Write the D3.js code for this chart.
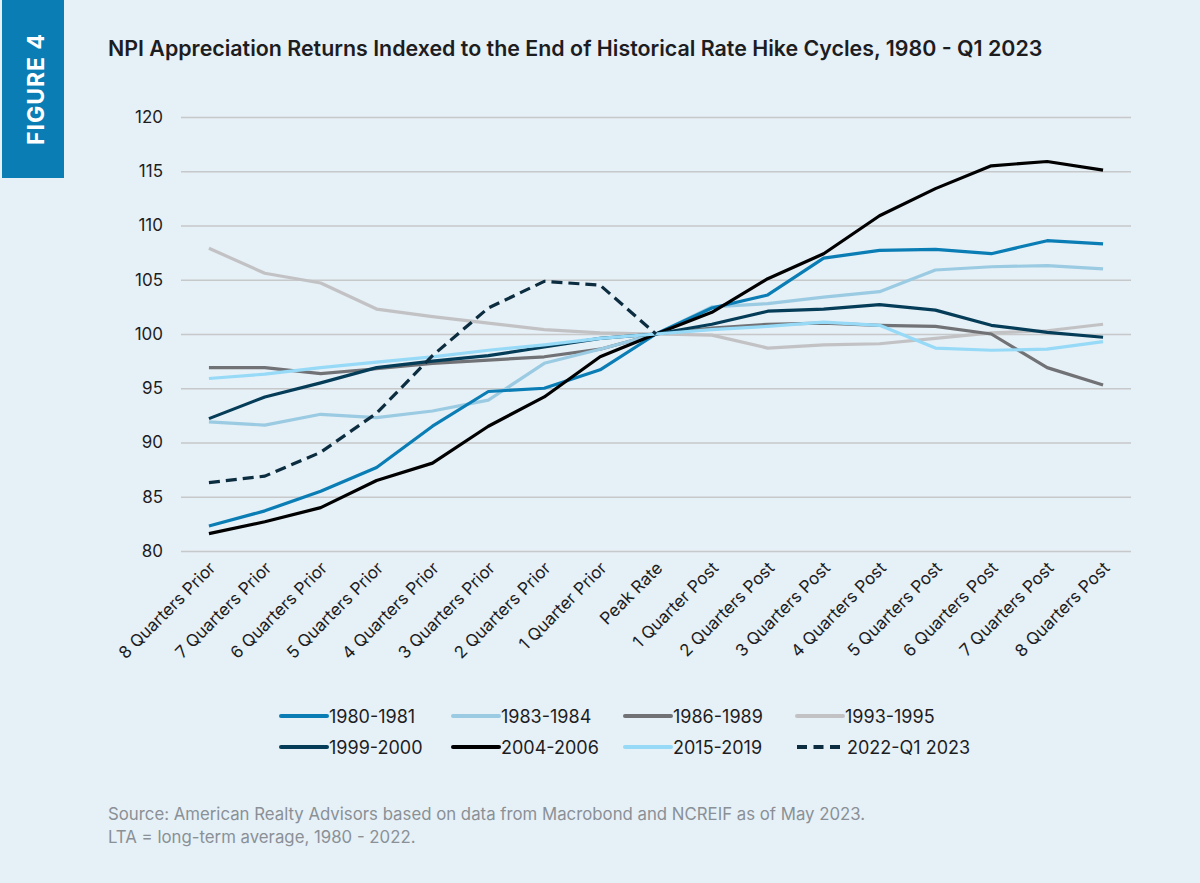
<!DOCTYPE html>
<html>
<head>
<meta charset="utf-8">
<script src="https://cdn.jsdelivr.net/npm/d3@7"></script>
<style>
  body { margin: 0; background: #e6f0f7; }
  svg { display: block; font-family: Inter, 'Noto Sans', sans-serif; }
</style>
</head>
<body>
<svg id="chart" width="1200" height="883"></svg>
<script>
// x categories
const quarters = [
  '8 Quarters Prior', '7 Quarters Prior', '6 Quarters Prior', '5 Quarters Prior',
  '4 Quarters Prior', '3 Quarters Prior', '2 Quarters Prior', '1 Quarter Prior',
  'Peak Rate',
  '1 Quarter Post', '2 Quarters Post', '3 Quarters Post', '4 Quarters Post',
  '5 Quarters Post', '6 Quarters Post', '7 Quarters Post', '8 Quarters Post'
];

// series values (index = 100 at peak rate)
const s1980 = [82.3, 83.7, 85.5, 87.7, 91.5, 94.7, 95.0, 96.7, 100, 102.4, 103.6, 107.0, 107.7, 107.8, 107.4, 108.6, 108.3];
const s1983 = [91.9, 91.6, 92.6, 92.3, 92.9, 93.9, 97.3, 98.6, 100, 102.5, 102.8, 103.4, 103.9, 105.9, 106.2, 106.3, 106.0];
const s1986 = [96.9, 96.9, 96.35, 96.8, 97.3, 97.6, 97.9, 98.6, 100, 100.55, 100.9, 101.0, 100.8, 100.7, 100.0, 96.9, 95.3];
const s1993 = [107.9, 105.6, 104.7, 102.3, 101.6, 101.0, 100.4, 100.1, 100, 99.9, 98.7, 99.0, 99.1, 99.6, 100.1, 100.3, 100.9];
const s1999 = [92.2, 94.2, 95.5, 96.9, 97.5, 98.0, 98.8, 99.6, 100, 100.9, 102.1, 102.3, 102.7, 102.2, 100.8, 100.15, 99.7];
const s2004 = [81.6, 82.7, 84.0, 86.5, 88.1, 91.5, 94.2, 97.9, 100, 102.0, 105.1, 107.4, 110.9, 113.4, 115.5, 115.9, 115.1];
const s2015 = [95.9, 96.3, 96.9, 97.4, 97.9, 98.5, 99.0, 99.6, 100, 100.4, 100.7, 101.1, 100.8, 98.7, 98.5, 98.6, 99.3];
const s2022 = [86.3, 86.9, 89.1, 92.7, 98.0, 102.4, 104.85, 104.5, 100];

const seriesNames = ['1980-1981', '1983-1984', '1986-1989', '1993-1995', '1999-2000', '2004-2006', '2015-2019', '2022-Q1 2023'];
const seriesValues = [s1980, s1983, s1986, s1993, s1999, s2004, s2015, s2022];
const seriesColors = ['#0a7db5', '#9acbe2', '#717275', '#c2c2c4', '#053d58', '#000000', '#96daf7', '#0c2d40'];
const seriesDashed = [false, false, false, false, false, false, false, true];

const yTicks = [80, 85, 90, 95, 100, 105, 110, 115, 120];

const svg = d3.select('#chart');

svg.append('rect').attr('width', 1200).attr('height', 883).attr('fill', '#e6f0f7');

// figure tab
svg.append('rect')
  .attr('x', 2).attr('y', 0).attr('width', 62).attr('height', 178)
  .attr('fill', '#0a7db5');
svg.append('text')
  .attr('transform', 'translate(44,89) rotate(-90)')
  .attr('text-anchor', 'middle')
  .attr('fill', '#ffffff')
  .style('font-size', '23px')
  .style('font-weight', 700)
  .style('letter-spacing', '1px')
  .text('FIGURE 4');

svg.append('text')
  .attr('x', 108).attr('y', 56)
  .attr('fill', '#1d1d1f')
  .style('font-size', '21.4px')
  .style('font-weight', 600)
  .text('NPI Appreciation Returns Indexed to the End of Historical Rate Hike Cycles, 1980 - Q1 2023');

const x = d3.scalePoint().domain(quarters).range([181, 1131]).padding(0.5);
const y = d3.scaleLinear().domain([80, 120]).range([551, 117]);

// gridlines + y labels
const yAxis = svg.append('g')
  .attr('transform', 'translate(181,0)')
  .call(d3.axisLeft(y).tickValues(yTicks).tickSize(-950).tickPadding(18).tickFormat(d3.format('d')));
yAxis.select('.domain').remove();
yAxis.selectAll('.tick line').attr('stroke', '#c6c8ca').attr('stroke-width', 1.5);
yAxis.selectAll('.tick text')
  .attr('fill', '#1d1d1f')
  .style('font-size', '17px')
  .style('font-family', 'Inter, sans-serif');

// x labels
const xAxis = svg.append('g')
  .attr('transform', 'translate(0,551)')
  .call(d3.axisBottom(x).tickSize(0));
xAxis.select('.domain').remove();
xAxis.selectAll('.tick text')
  .attr('text-anchor', 'end')
  .attr('fill', '#1d1d1f')
  .attr('dy', 0)
  .attr('transform', 'translate(5,16) rotate(-45)')
  .style('font-size', '17px')
  .style('font-family', 'Inter, sans-serif');

const line = d3.line()
  .x((d, i) => x(quarters[i]))
  .y(d => y(d));

const order = [3, 2, 1, 0, 5, 4, 6, 7];
order.forEach(k => {
  svg.append('path')
    .datum(seriesValues[k])
    .attr('d', line)
    .attr('fill', 'none')
    .attr('stroke', seriesColors[k])
    .attr('stroke-width', 3.2)
    .attr('stroke-linejoin', 'round')
    .attr('stroke-dasharray', seriesDashed[k] ? '11,6' : null);
});

// legend
const legendCols = [281, 453, 625, 797];
const legendRows = [716, 747];
seriesNames.forEach((name, i) => {
  const lx = legendCols[i % 4];
  const ly = legendRows[Math.floor(i / 4)];
  svg.append('line')
    .attr('x1', lx).attr('x2', seriesDashed[i] ? lx + 43 : lx + 46)
    .attr('y1', ly).attr('y2', ly)
    .attr('stroke', seriesColors[i])
    .attr('stroke-width', 4)
    .attr('stroke-linecap', seriesDashed[i] ? 'butt' : 'round')
    .attr('stroke-dasharray', seriesDashed[i] ? '10,6.5' : null);
  svg.append('text')
    .attr('x', seriesDashed[i] ? lx + 50 : lx + 48)
    .attr('y', ly + 6.5)
    .attr('fill', '#1d1d1f')
    .style('font-size', '18px')
    .text(name);
});

svg.append('text')
  .attr('x', 108).attr('y', 820)
  .attr('fill', '#8a9096')
  .style('font-size', '16.8px')
  .text('Source: American Realty Advisors based on data from Macrobond and NCREIF as of May 2023.');
svg.append('text')
  .attr('x', 108).attr('y', 843)
  .attr('fill', '#8a9096')
  .style('font-size', '16.8px')
  .text('LTA = long-term average, 1980 - 2022.');
</script>
</body>
</html>
